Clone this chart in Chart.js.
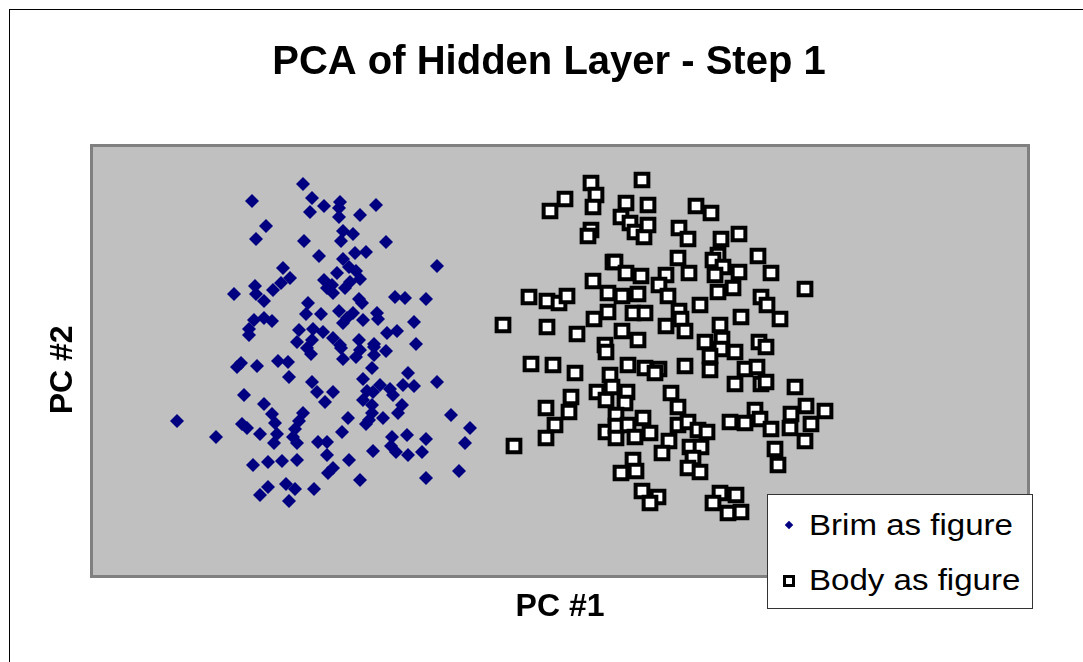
<!DOCTYPE html>
<html>
<head>
<meta charset="utf-8">
<script src="https://cdn.jsdelivr.net/npm/chart.js@4.4.1/dist/chart.umd.min.js"></script>
<style>
  body { margin: 0; background: #fff; overflow: hidden; font-family: "Liberation Sans", Arial, sans-serif; }
  #wrap { position: relative; width: 1083px; height: 662px; }
  #frame { position: absolute; left: 9px; top: 9px; width: 1200px; height: 800px; border: 1px solid #000; box-sizing: border-box; }
  #legend { position: absolute; left: 767px; top: 494px; width: 266px; height: 115px; border: 1px solid #333; background: #fff; box-sizing: border-box; }
  #legend .txt { position: absolute; left: 41px; font-size: 29px; line-height: 29px; color: #000; white-space: nowrap; transform: scaleX(1.14); transform-origin: left center; }
  #legend .dia { position: absolute; width: 6px; height: 6px; background: #000080; transform: rotate(45deg); }
  #legend .sq { position: absolute; width: 12px; height: 12px; border: 3px solid #000; background: #fff; box-sizing: border-box; }
</style>
</head>
<body>
<div id="wrap">
  <div id="frame"></div>
  <canvas id="mainChart"></canvas>
  <div id="legend">
    <div class="dia" style="left:18px; top:27px;"></div>
    <div class="txt" style="top:16px;">Brim as figure</div>
    <div class="sq" style="left:15px; top:80px;"></div>
    <div class="txt" style="top:71px;">Body as figure</div>
  </div>
</div>
<script>
// Values (no tick labels, so units are the picture's own)
const brimX = [303, 252, 312, 324, 310, 266, 256, 304, 319, 283, 290, 281, 255, 273, 234, 256, 264, 324, 327, 308,
  306, 321, 254, 264, 272, 249, 299, 313, 323, 297, 312, 340, 339, 339, 376, 360, 343, 353, 341, 386,
  355, 366, 343, 437, 349, 356, 337, 360, 350, 332, 345, 333, 359, 362, 395, 405, 426, 339, 353, 347,
  343, 363, 377, 378, 414, 333, 387, 397, 359, 374, 416, 340, 249, 307, 311, 237, 241, 257, 278, 288,
  289, 312, 317, 325, 333, 244, 264, 272, 275, 303, 299, 295, 177, 242, 247, 260, 277, 274, 293, 297,
  318, 327, 216, 327, 253, 268, 282, 297, 328, 268, 260, 286, 295, 314, 289, 341, 360, 374, 374, 356,
  343, 386, 372, 363, 408, 403, 414, 437, 380, 373, 367, 390, 393, 363, 372, 402, 398, 372, 369, 383,
  366, 348, 451, 470, 342, 392, 407, 426, 465, 391, 396, 373, 408, 422, 349, 333, 459, 360, 426];
const brimY = [184, 201, 198, 206, 212, 226, 239, 241, 256, 268, 278, 283, 286, 290, 294, 294, 301, 280, 288, 303,
  314, 314, 320, 318, 321, 329, 330, 329, 332, 342, 340, 202, 208, 217, 205, 215, 231, 234, 241, 242,
  253, 252, 259, 266, 267, 271, 273, 279, 282, 285, 288, 293, 299, 303, 297, 298, 299, 311, 313, 318,
  323, 320, 313, 319, 322, 338, 333, 331, 340, 344, 344, 345, 335, 348, 354, 367, 363, 366, 361, 362,
  377, 382, 392, 402, 392, 395, 404, 414, 423, 413, 421, 429, 421, 424, 428, 434, 434, 443, 437, 443,
  442, 442, 437, 455, 465, 462, 461, 460, 473, 487, 495, 484, 489, 489, 501, 348, 350, 347, 355, 357,
  359, 351, 368, 379, 373, 385, 386, 382, 385, 392, 391, 389, 395, 400, 405, 405, 413, 413, 420, 418,
  424, 418, 415, 428, 432, 437, 435, 439, 443, 446, 452, 451, 455, 452, 460, 468, 471, 480, 478];

const bodyX = [591, 596, 565, 550, 593, 591, 588, 613, 593, 529, 547, 559, 567, 608, 608, 594, 503, 547, 577, 605,
  642, 626, 648, 621, 630, 635, 644, 648, 696, 711, 679, 688, 721, 615, 678, 718, 713, 723, 626, 641,
  666, 689, 715, 659, 622, 638, 668, 718, 700, 633, 645, 679, 681, 666, 685, 622, 638, 705, 720, 722,
  739, 758, 771, 805, 739, 733, 761, 767, 780, 741, 759, 766, 606, 531, 553, 575, 610, 597, 606, 612,
  571, 546, 569, 555, 546, 514, 606, 721, 710, 628, 645, 659, 655, 685, 710, 627, 625, 671, 678, 616,
  643, 616, 628, 650, 635, 616, 678, 688, 698, 707, 669, 690, 701, 662, 693, 633, 688, 700, 621, 636,
  642, 658, 650, 720, 713, 728, 735, 745, 757, 735, 761, 766, 795, 730, 745, 755, 760, 771, 791, 806,
  825, 811, 790, 805, 775, 778, 736, 741];
const bodyY = [183, 195, 199, 211, 207, 230, 236, 262, 281, 297, 301, 303, 296, 293, 312, 319, 325, 327, 334, 345,
  180, 203, 205, 217, 223, 232, 237, 225, 206, 213, 228, 239, 239, 262, 258, 255, 260, 267, 273, 276,
  275, 273, 275, 285, 296, 294, 296, 292, 305, 313, 313, 311, 319, 326, 331, 331, 340, 342, 325, 339,
  234, 256, 273, 289, 272, 288, 297, 305, 319, 317, 342, 347, 352, 364, 365, 373, 375, 392, 400, 387,
  397, 408, 412, 425, 438, 446, 432, 349, 356, 365, 368, 369, 373, 366, 370, 392, 403, 393, 407, 415,
  418, 426, 425, 433, 437, 438, 425, 422, 430, 432, 441, 447, 447, 453, 458, 460, 468, 472, 473, 471,
  491, 497, 503, 493, 503, 513, 352, 369, 367, 384, 384, 382, 387, 422, 423, 410, 419, 429, 414, 406,
  411, 424, 428, 441, 449, 465, 495, 512];

const seriesNames = ["Brim as figure", "Body as figure"];
const chartTitle = "PCA of Hidden Layer - Step 1";
const xTitle = "PC #1";
const yTitle = "PC #2  "; // trailing spaces nudge the rotated label down a little, like the original

// visible range of both axes, in the same units as the values
const xRange = [93, 1027];
const yRange = [147, 575];

function toPoints(xs, ys) {
  return xs.map((x, i) => ({ x: x, y: ys[i] }));
}

// grey plot area with its darker frame
const plotFrame = {
  id: "plotFrame",
  beforeDraw(chart) {
    const { ctx, chartArea: a } = chart;
    ctx.save();
    ctx.fillStyle = "#c0c0c0";
    ctx.fillRect(a.left, a.top, a.width, a.height);
    ctx.strokeStyle = "#808080";
    ctx.lineWidth = 3;
    ctx.strokeRect(a.left - 1.5, a.top - 1.5, a.width + 3, a.height + 3);
    ctx.restore();
  },
};

const font = "'Liberation Sans', Arial, sans-serif";

let config = {
  type: "scatter",
  data: {
    datasets: [
      {
        label: seriesNames[0],
        data: toPoints(brimX, brimY),
        pointStyle: "rectRot",
        pointRadius: 7,
        backgroundColor: "#000080",
        borderColor: "#000080",
        borderWidth: 0,
      },
      {
        label: seriesNames[1],
        data: toPoints(bodyX, bodyY),
        pointStyle: "rect",
        pointRadius: 9,
        backgroundColor: "#ffffff",
        borderColor: "#000000",
        borderWidth: 4,
      },
    ],
  },
  options: {
    responsive: true,
    maintainAspectRatio: false,
    animation: false,
    layout: { padding: { left: 15, right: 0, top: 0, bottom: 35.6 } },
    plugins: {
      legend: { display: false },
      tooltip: { enabled: false },
      title: {
        display: true,
        text: chartTitle,
        color: "#000",
        font: { family: font, size: 40, weight: "bold" },
        padding: { top: 39, bottom: 60 },
      },
    },
    scales: {
      x: {
        type: "linear",
        min: xRange[0],
        max: xRange[1],
        ticks: { display: false },
        grid: { display: false },
        border: { display: false },
        title: {
          display: true,
          text: xTitle,
          color: "#000",
          font: { family: font, size: 32, weight: "bold" },
          padding: { top: 13, bottom: 0 },
        },
        afterFit: (scale) => { scale.height = 51.4; },
      },
      y: {
        type: "linear",
        reverse: true,
        min: yRange[0],
        max: yRange[1],
        ticks: { display: false },
        grid: { display: false },
        border: { display: false },
        title: {
          display: true,
          text: yTitle,
          color: "#000",
          font: { family: font, size: 32, weight: "bold" },
          padding: { top: 29, bottom: 0 },
        },
        afterFit: (scale) => { scale.width = 78; },
      },
      yRight: {
        type: "linear",
        position: "right",
        ticks: { display: false },
        grid: { display: false },
        border: { display: false },
        afterFit: (scale) => { scale.width = 56; },
      },
    },
  },
  plugins: [plotFrame],
};

let mainChart = new Chart(document.getElementById("mainChart"), config);
</script>
</body>
</html>
